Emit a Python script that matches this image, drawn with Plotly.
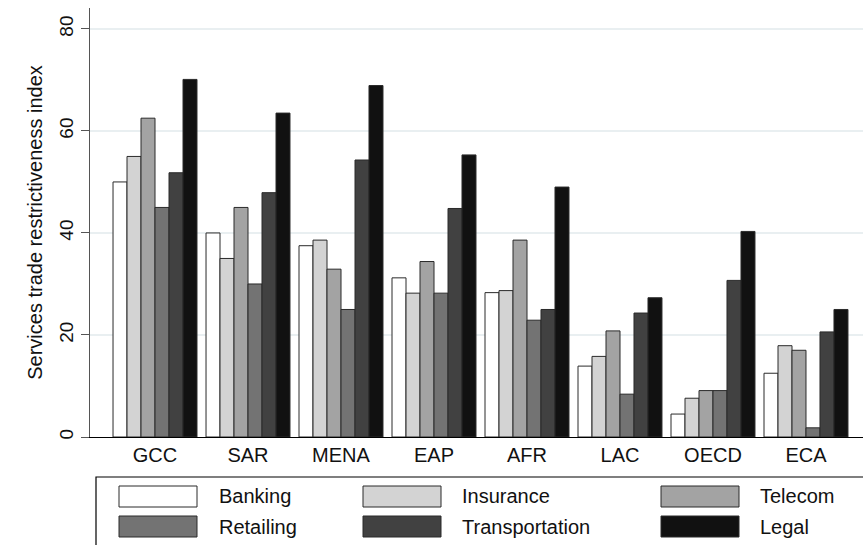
import plotly.graph_objects as go

# Regions and sectors
regions = ["GCC", "SAR", "MENA", "EAP", "AFR", "LAC", "OECD", "ECA"]
sectors = ["Banking", "Insurance", "Telecom", "Retailing", "Transportation", "Legal"]
colors = ["#ffffff", "#d3d3d3", "#a3a3a3", "#737373", "#414141", "#111111"]

# Services trade restrictiveness index by sector
banking        = [50.0, 40.0, 37.5, 31.2, 28.3, 13.9, 4.5, 12.5]
insurance      = [55.0, 35.0, 38.6, 28.2, 28.7, 15.8, 7.6, 17.9]
telecom        = [62.5, 45.0, 32.9, 34.4, 38.6, 20.8, 9.1, 17.0]
retailing      = [45.0, 30.0, 25.0, 28.2, 22.9, 8.4, 9.1, 1.8]
transportation = [51.8, 47.9, 54.3, 44.8, 25.0, 24.3, 30.7, 20.6]
legal          = [70.1, 63.5, 68.9, 55.3, 49.0, 27.3, 40.3, 25.0]

values = [banking, insurance, telecom, retailing, transportation, legal]

W, H = 863, 545
ML, MR, MT, MB = 90, 0, 8, 108
PW, PH = W - ML - MR, H - MT - MB

FONT = "Liberation Sans, Arial, sans-serif"

fig = go.Figure()
for name, col, vals in zip(sectors, colors, values):
    fig.add_trace(go.Bar(
        x=regions, y=vals, name=name,
        marker=dict(color=col, line=dict(color="#2a2a2a", width=1)),
        showlegend=False,
    ))


def px_x(x):
    return (x - ML) / PW


def px_y(y):
    return (H - MB - y) / PH


shapes = []
annotations = []

# legend frame
shapes.append(dict(type="rect", xref="paper", yref="paper",
                   x0=px_x(96), x1=px_x(880), y0=px_y(560), y1=px_y(477),
                   line=dict(color="#000000", width=1.2), fillcolor="rgba(0,0,0,0)"))

col_swatch_x = [119, 363, 661]
col_label_x = [217, 460, 758]
row_y = [(486, 507), (516, 537)]
for i, (name, col) in enumerate(zip(sectors, colors)):
    r, c = divmod(i, 3)
    y0, y1 = row_y[r]
    x0 = col_swatch_x[c]
    shapes.append(dict(type="rect", xref="paper", yref="paper",
                       x0=px_x(x0), x1=px_x(x0 + 78), y0=px_y(y1), y1=px_y(y0),
                       fillcolor=col, line=dict(color="#2a2a2a", width=1)))
    annotations.append(dict(xref="paper", yref="paper", x=px_x(col_label_x[c]),
                            y=px_y((y0 + y1) / 2), text=name, showarrow=False,
                            xanchor="left", yanchor="middle",
                            font=dict(family=FONT, size=20, color="#111111")))

fig.update_layout(
    width=W, height=H,
    margin=dict(l=ML, r=MR, t=MT, b=MB),
    paper_bgcolor="white", plot_bgcolor="white",
    barmode="group", bargap=0.097, bargroupgap=0,
    font=dict(family=FONT, size=20, color="#111111"),
    shapes=shapes, annotations=annotations,
    showlegend=False,
    xaxis=dict(
        range=[-0.699, 7.613],
        showline=True, linecolor="#000000", linewidth=1.2,
        ticks="", showgrid=False,
        tickfont=dict(family=FONT, size=20, color="#111111"),
    ),
    yaxis=dict(
        range=[0, 84.1],
        tickvals=[0, 20, 40, 60, 80],
        tickangle=-90,
        ticks="outside", ticklen=8, tickcolor="#555555", tickwidth=1,
        showline=True, linecolor="#555555", linewidth=1.2,
        showgrid=True, gridcolor="#e9eff1", gridwidth=1.5,
        zeroline=False,
        tickfont=dict(family=FONT, size=19, color="#111111"),
        title=dict(text="Services trade restrictiveness index",
                   font=dict(family=FONT, size=20, color="#111111"), standoff=8),
    ),
)

fig.write_html("out.html")
